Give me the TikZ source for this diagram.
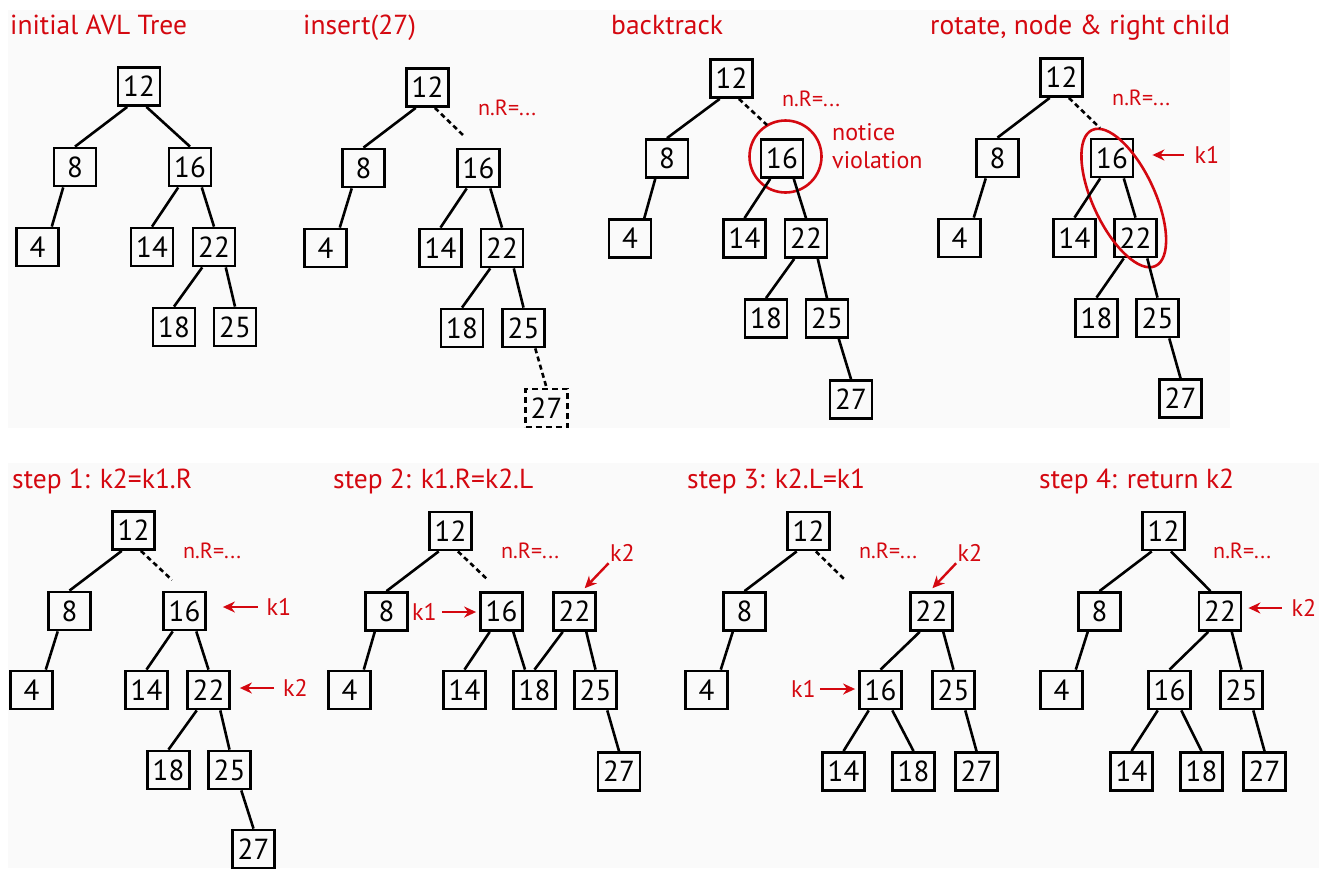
\documentclass[tikz,border=0pt]{standalone}
\usepackage{fontspec}
\setmainfont{PT Sans}
\usetikzlibrary{arrows.meta,calc}

\definecolor{notered}{RGB}{212,8,16}
\definecolor{panelbg}{RGB}{250,250,250}

\begin{document}
\begin{tikzpicture}[x=1pt, y=-1pt,
  key/.style={draw, line width=2.8pt, minimum width=42pt, minimum height=38pt,
    inner sep=0pt, font=\fontsize{29}{29}\selectfont},
  newkey/.style={key, dash pattern=on 6pt off 4pt},
  link/.style={line width=2.6pt},
  pending/.style={link, dash pattern=on 5pt off 3.5pt},
  title/.style={anchor=base west, inner sep=0pt, text=notered,
    font=\fontsize{27.5}{30}\selectfont},
  note/.style={inner sep=0pt, text=notered, font=\fontsize{24}{28}\selectfont},
  assign/.style={anchor=base west, inner sep=0pt, text=notered,
    font=\fontsize{22}{24}\selectfont},
  pointer/.style={draw=notered, line width=2.4pt, -{Stealth[length=12pt, width=11pt]}},
  ring/.style={draw=notered, line width=2.6pt}
]
\useasboundingbox (0,0) rectangle (1319,868);
\fill[panelbg] (8,10) rectangle (1230,428);
\fill[panelbg] (8,463) rectangle (1319,868);

% titles
\node[title] (t1) at (10,34) {initial AVL Tree};
\node[title] (t2) at (303,34) {insert(27)};
\node[title] (t3) at (611,34) {backtrack};
\node[title] (t4) at (930,34) {rotate, node \& right child};
\node[title] (t5) at (12,488) {step 1: k2=k1.R};
\node[title] (t6) at (333,488) {step 2: k1.R=k2.L};
\node[title] (t7) at (687,488) {step 3: k2.L=k1};
\node[title] (t8) at (1039,488) {step 4: return k2};

% initial tree
\node[key] (a12) at (139,86.5) {12};
\node[key] (a8)  at (75,167) {8};
\node[key] (a16) at (190,167) {16};
\node[key] (a4)  at (37.5,247) {4};
\node[key] (a14) at (152,247) {14};
\node[key] (a22) at (214,247) {22};
\node[key] (a18) at (174,327) {18};
\node[key] (a25) at (235,327) {25};

% insert 27
\node[key] (b12) at (427.5,87.5) {12};
\node[key] (b8)  at (363.5,168) {8};
\node[key] (b16) at (478.5,168) {16};
\node[key] (b4)  at (325.5,248) {4};
\node[key] (b14) at (440.5,248) {14};
\node[key] (b22) at (502,248) {22};
\node[key] (b18) at (462,328) {18};
\node[key] (b25) at (523.5,328) {25};
\node[newkey] (b27) at (546.5,408) {27};
\coordinate (b16up) at (465,137);
\node[assign] (bnr) at (478,115) {n.R=...};

% backtrack
\node[key] (c12) at (731.5,78.5) {12};
\node[key] (c8)  at (667,158.5) {8};
\node[key] (c16) at (782,158.5) {16};
\node[key] (c4)  at (630,238.5) {4};
\node[key] (c14) at (744.5,238.5) {14};
\node[key] (c22) at (806,238.5) {22};
\node[key] (c18) at (766,318.5) {18};
\node[key] (c25) at (827,318.5) {25};
\node[key] (c27) at (851,399.5) {27};
\coordinate (c16up) at (767,125);
\node[assign] (cnr) at (782,106) {n.R=...};
\node[note, anchor=base west, align=left] (cviol) at (832,168) {notice\\violation};
\draw[ring] ([xshift=3.5pt,yshift=2pt]c16.center) circle [radius=36pt];

% rotate
\node[key] (d12) at (1061.5,77.5) {12};
\node[key] (d8)  at (997.5,158) {8};
\node[key] (d16) at (1112,158) {16};
\node[key] (d4)  at (959.5,238) {4};
\node[key] (d14) at (1074.5,238) {14};
\node[key] (d22) at (1135.5,238) {22};
\node[key] (d18) at (1096.5,318) {18};
\node[key] (d25) at (1157.5,318) {25};
\node[key] (d27) at (1180.5,398.5) {27};
\coordinate (d16up) at (1100,128);
\coordinate (dpair) at ($(d16)!0.5!(d22)$);
\node[assign] (dnr) at (1112,105) {n.R=...};
\node[note] (dk1) at (1207,155) {k1};
\draw[ring, rotate around={-65:(dpair)}] (dpair) ellipse [x radius=75pt, y radius=31pt];

% step 1
\node[key] (e12) at (133.5,530.5) {12};
\node[key] (e8)  at (69.5,611) {8};
\node[key] (e16) at (184.5,611) {16};
\node[key] (e4)  at (31.5,690) {4};
\node[key] (e14) at (146.5,690) {14};
\node[key] (e22) at (208.5,690) {22};
\node[key] (e18) at (168.5,770) {18};
\node[key] (e25) at (229.5,770) {25};
\node[key] (e27) at (253.5,849) {27};
\coordinate (e16up) at (172,580);
\node[assign] (enr) at (183,558) {n.R=...};
\node[note] (ek1) at (279,607) {k1};
\node[note] (ek2) at (295.5,688) {k2};

% step 2
\node[key] (f12) at (450.5,531) {12};
\node[key] (f8)  at (386.5,611.5) {8};
\node[key] (f16) at (501.5,611.5) {16};
\node[key] (f22) at (574.5,611.5) {22};
\node[key] (f4)  at (349.5,690) {4};
\node[key] (f14) at (464.5,690) {14};
\node[key] (f18) at (534.5,690) {18};
\node[key] (f25) at (595.5,690) {25};
\node[key] (f27) at (619,771.5) {27};
\coordinate (f16up) at (488,580);
\node[assign] (fnr) at (501,558) {n.R=...};
\node[note] (fk1) at (424.5,612) {k1};
\node[note] (fk2) at (622.5,553) {k2};

% step 3
\node[key] (g12) at (808.5,531) {12};
\node[key] (g8)  at (744.5,611.5) {8};
\node[key] (g22) at (931.5,611.5) {22};
\node[key] (g4)  at (706.5,690) {4};
\node[key] (g16) at (880.5,690) {16};
\node[key] (g25) at (953.5,690) {25};
\node[key] (g14) at (843.5,771.5) {14};
\node[key] (g18) at (913.5,771.5) {18};
\node[key] (g27) at (976.5,771.5) {27};
\coordinate (g16up) at (845,580);
\node[assign] (gnr) at (859,558) {n.R=...};
\node[note] (gk1) at (803.5,689) {k1};
\node[note] (gk2) at (970,553) {k2};

% step 4
\node[key] (h12) at (1163.5,531) {12};
\node[key] (h8)  at (1099.5,611.5) {8};
\node[key] (h22) at (1220,611.5) {22};
\node[key] (h4)  at (1061.5,690) {4};
\node[key] (h16) at (1169.5,690) {16};
\node[key] (h25) at (1241.5,690) {25};
\node[key] (h14) at (1131.5,771.5) {14};
\node[key] (h18) at (1201.5,771.5) {18};
\node[key] (h27) at (1264.5,771.5) {27};
\node[assign] (hnr) at (1213,558) {n.R=...};
\node[note] (hk2) at (1304,608) {k2};

% tree edges
\foreach \t in {a,...,h} {
  \draw[link] (\t12.-120) -- (\t8.north);
  \draw[link] (\t8.-120) -- (\t4.55);
}
\foreach \p/\c in {a16/a14, a22/a18, b16/b14, b22/b18, c16/c14, c22/c18,
    d16/d14, d22/d18, e16/e14, e22/e18, f16/f14, f22/f18,
    g22/g16, g16/g14, h22/h16, h16/h14}
  \draw[link] (\p.-120) -- (\c.north);
\foreach \p/\c in {a16/a22, a22/a25, b16/b22, b22/b25, c16/c22, c22/c25, c25/c27,
    d16/d22, d22/d25, d25/d27, e16/e22, e22/e25, e25/e27, f22/f25, f25/f27,
    g22/g25, g16/g18, g25/g27, h22/h25, h16/h18, h25/h27}
  \draw[link] (\p.-60) -- (\c.north);
\draw[link] (a12.-70) -- (a16.north);
\draw[link] (h12.-70) -- (h22.115);
\draw[link] (f16.-60) -- (f18.115);

% cut links
\foreach \t in {b,...,g}
  \draw[pending] (\t12.-70) -- (\t16up);
\draw[pending] (b25.-60) -- (b27.north);

% k1 / k2 pointers
\draw[pointer, shorten <=11pt, shorten >=18pt] (dk1.west) -- (d16.east |- dk1.west);
\draw[pointer, shorten <=9pt, shorten >=16pt] (ek1.west) -- (e16.east |- ek1.west);
\draw[pointer, shorten <=9pt, shorten >=9pt] (ek2.west) -- (e22.east |- ek2.west);
\draw[pointer, shorten <=5pt, shorten >=3pt] (fk1.east) -- (f16.west |- fk1.east);
\draw[pointer, shorten <=2pt, shorten >=4pt] (fk2.south west) -- (f22.70);
\draw[pointer, shorten <=2pt, shorten >=4pt] (gk2.south west) -- (g22.95);
\draw[pointer, shorten <=4pt, shorten >=3pt] (gk1.east) -- (g16.west |- gk1.east);
\draw[pointer, shorten <=10pt, shorten >=6pt] (hk2.west) -- (h22.east |- hk2.west);
\end{tikzpicture}
\end{document}
